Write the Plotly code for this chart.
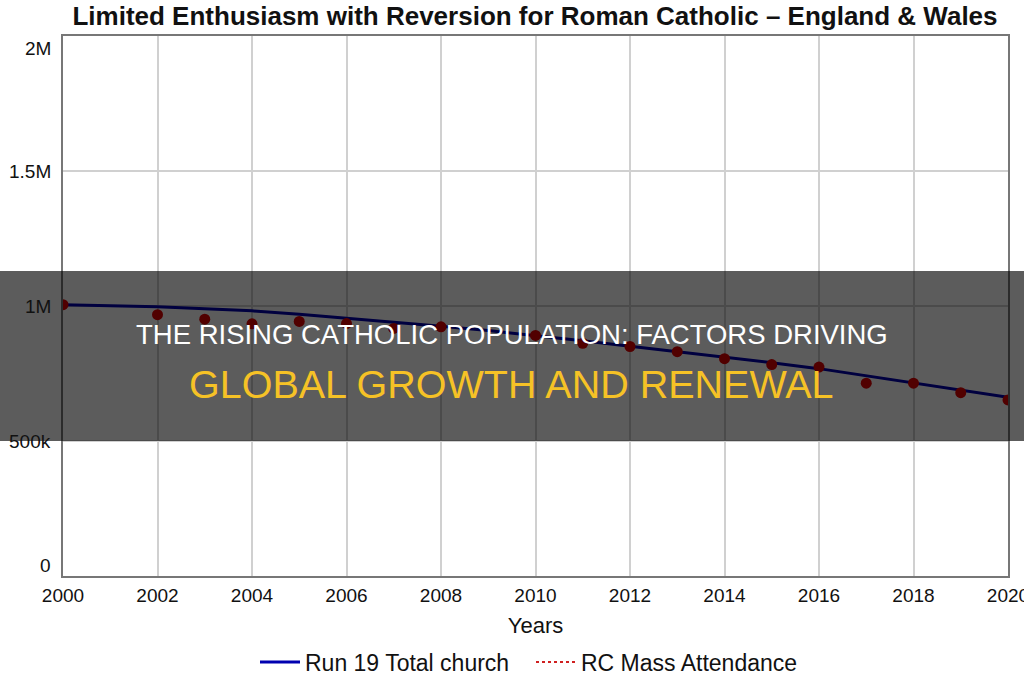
import plotly.graph_objects as go

# ---- data ----
model_years = [2000, 2001, 2002, 2003, 2004, 2005, 2006, 2007, 2008, 2009, 2010,
               2011, 2012, 2013, 2014, 2015, 2016, 2017, 2018, 2019, 2020]
model_total_church = [1005000, 1002000, 997000, 990000, 982000, 969000, 955000, 940000,
                      925000, 909000, 891000, 871000, 851000, 831000, 811000, 790000,
                      768000, 742000, 714000, 688000, 662000]

obs_years = [2000, 2002, 2003, 2004, 2005, 2006, 2007, 2008, 2010, 2011, 2012,
             2013, 2014, 2015, 2016, 2017, 2018, 2019, 2020]
mass_attendance = [1005000, 968000, 951000, 934000, 943000, 935000, 917000, 923000,
                   891000, 862000, 850000, 831000, 805000, 783000, 774000, 714000,
                   714000, 679000, 652000]

x_tickvals = [2000, 2002, 2004, 2006, 2008, 2010, 2012, 2014, 2016, 2018, 2020]
x_ticktext = [str(v) for v in x_tickvals]
y_tickvals = [0, 500000, 1000000, 1500000, 2000000]
y_ticktext = ["0", "500k", "1M", "1.5M", "2M"]

title_text = "Limited Enthusiasm with Reversion for Roman Catholic \u2013 England & Wales"
overlay_line1 = "THE RISING CATHOLIC POPULATION: FACTORS DRIVING"
overlay_line2 = "GLOBAL GROWTH AND RENEWAL"

# ---- geometry helpers (pixel -> paper) ----
W, H = 1024, 680
ML, MR, MT, MB = 63, 16, 36, 104
PW, PH = W - ML - MR, H - MT - MB


def px_x(p):
    return (p - ML) / PW


def px_y(p):
    return (H - MB - p) / PH


FONT = "Liberation Sans, Arial, Helvetica, sans-serif"
TXT = "#111111"

fig = go.Figure()

fig.add_trace(go.Scatter(
    x=model_years, y=model_total_church, mode="lines",
    line=dict(color="#0000b0", width=3),
    name="Run 19 Total church", showlegend=True,
))
fig.add_trace(go.Scatter(
    x=obs_years, y=mass_attendance, mode="markers",
    marker=dict(color="#e00000", size=11, line=dict(width=0)),
    name="RC Mass Attendance", showlegend=False,
))
# legend-only entry showing the dotted red line style
fig.add_trace(go.Scatter(
    x=[None], y=[None], mode="lines",
    line=dict(color="#d02020", width=2, dash="dot"),
    name="RC Mass Attendance", showlegend=True,
))

fig.update_layout(
    width=W, height=H,
    margin=dict(l=ML, r=MR, t=MT, b=MB, pad=0, autoexpand=False),
    paper_bgcolor="white", plot_bgcolor="white",
    font=dict(family=FONT, color=TXT, size=19),
    title=dict(text="<b>" + title_text + "</b>", x=535 / W,
               xanchor="center", y=1 - 16 / H, yanchor="middle",
               font=dict(size=26, color=TXT, family=FONT)),
    showlegend=True,
    legend=dict(orientation="h", x=px_x(255), xanchor="left", y=px_y(662), yanchor="middle",
                font=dict(size=23, family=FONT, color=TXT),
                bgcolor="rgba(0,0,0,0)", itemwidth=40, tracegroupgap=0,
                entrywidth=221, entrywidthmode="pixels"),
    xaxis=dict(range=[2000, 2020], tickmode="array", tickvals=x_tickvals, ticktext=x_ticktext,
               showgrid=True, gridcolor="#d0d0d0", gridwidth=1.5,
               showline=True, linecolor="#777777", linewidth=2, mirror=True,
               ticks="", ticklabelstandoff=1, zeroline=False, automargin=False,
               ticklabeloverflow="allow",
               tickfont=dict(size=19, family=FONT, color=TXT),
               title=dict(text="Years", standoff=13, font=dict(size=22, family=FONT, color=TXT))),
    yaxis=dict(range=[0, 2000000], tickvals=y_tickvals, ticktext=y_ticktext,
               showticklabels=False,
               showgrid=True, gridcolor="#d0d0d0", gridwidth=1.5,
               showline=True, linecolor="#777777", linewidth=2, mirror=True,
               ticks="", zeroline=False, automargin=False),
)

# y tick labels as annotations (end labels nudged inside like the reference)
n_ticks = len(y_tickvals)
for i, (v, t) in enumerate(zip(y_tickvals, y_ticktext)):
    shift = 0
    if i == 0:
        shift = 11
    elif i == n_ticks - 1:
        shift = -12
    fig.add_annotation(xref="paper", yref="y", x=px_x(53), y=v, text=t,
                       showarrow=False, xanchor="right", yanchor="middle", yshift=shift,
                       font=dict(size=19, family=FONT, color=TXT))

# dark translucent banner over the chart
fig.add_shape(type="rect", xref="paper", yref="paper",
              x0=px_x(-20), x1=px_x(W + 20), y0=px_y(441), y1=px_y(271),
              fillcolor="rgba(0,0,0,0.64)", line=dict(width=0), layer="above")

fig.add_annotation(xref="paper", yref="paper", x=px_x(512), y=px_y(334),
                   text=overlay_line1, showarrow=False, xanchor="center", yanchor="middle",
                   font=dict(size=27.5, color="#ffffff", family=FONT))
fig.add_annotation(xref="paper", yref="paper", x=px_x(511), y=px_y(384),
                   text=overlay_line2, showarrow=False, xanchor="center", yanchor="middle",
                   font=dict(size=39.5, color="#f6c226", family=FONT))

fig.write_html("out.html")
